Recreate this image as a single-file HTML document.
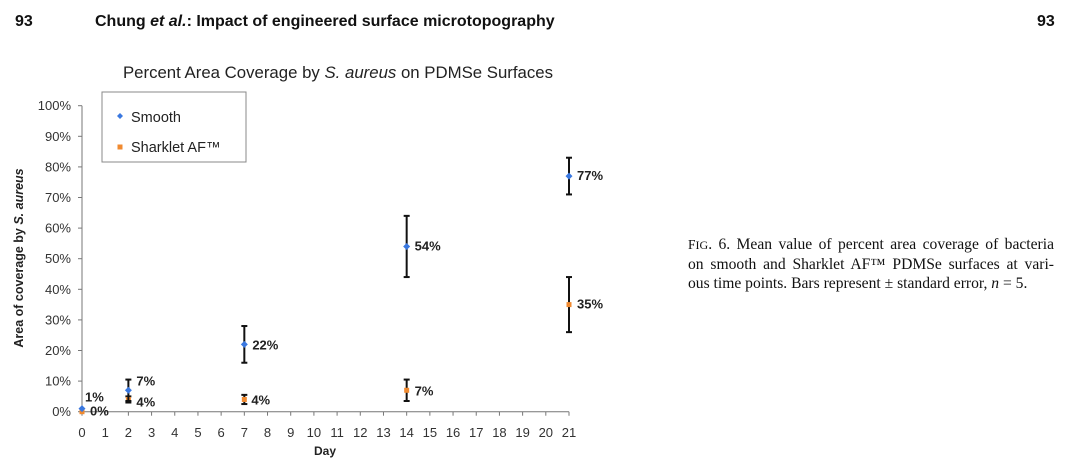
<!DOCTYPE html>
<html><head><meta charset="utf-8"><style>
body{margin:0;width:1080px;height:470px;background:#fff;overflow:hidden;position:relative;font-family:"Liberation Sans",sans-serif}
.hdr{position:absolute;top:13px;font-weight:bold;font-size:16px;color:#111}
.cap{position:absolute;left:688px;top:235px;width:366px;font-family:"Liberation Serif",serif;font-size:15.6px;line-height:19px;color:#111}
.cap div{text-align:justify;text-align-last:justify;white-space:nowrap}
</style></head><body>
<div class="hdr" style="left:15px">93</div>
<div class="hdr" style="left:95px">Chung <i>et al.</i>: Impact of engineered surface microtopography</div>
<div class="hdr" style="left:1037px">93</div>
<div class="cap"><div><span style="font-size:13.5px">F</span><span style="font-size:12px">IG</span>. 6. Mean value of percent area coverage of bacteria</div><div>on smooth and Sharklet AF™ PDMSe surfaces at vari-</div><div style="text-align-last:left">ous time points. Bars represent ± standard error, <i>n</i> = 5.</div></div>
<svg id="chart" width="1080" height="470" style="position:absolute;left:0;top:0" font-family="Liberation Sans, sans-serif">
<text x="338" y="78" text-anchor="middle" font-size="16.8" fill="#222">Percent Area Coverage by <tspan font-style="italic">S. aureus</tspan>  on PDMSe Surfaces</text>
<text transform="translate(23,258) rotate(-90)" text-anchor="middle" font-size="12.5" font-weight="bold" fill="#222">Area of coverage by <tspan font-style="italic">S. aureus</tspan></text>
<text x="325" y="455" text-anchor="middle" font-size="12" font-weight="bold" fill="#222">Day</text>
<g id="axes"></g><g id="marks"></g>
<g>
<rect x="102" y="92" width="144" height="70" fill="#fff" stroke="#888"/>
<path d="M120 113 l3 3 l-3 3 l-3 -3z" fill="#3a78e0"/>
<text x="131" y="122" font-size="14.5" fill="#222">Smooth</text>
<rect x="117.5" y="144.5" width="5" height="5" fill="#f08a30"/>
<text x="131" y="152" font-size="14.5" fill="#222">Sharklet AF™</text>
</g>
</svg>
<script>
const days=[0,2,7,14,21];
const smooth=[1,7,22,54,77];
const smoothErr=[0,3.5,6,10,6];
const sharklet=[0,4,4,7,35];
const sharkletErr=[0,1,1.5,3.5,9];
const yTicks=[0,10,20,30,40,50,60,70,80,90,100];
const xTicks=[0,1,2,3,4,5,6,7,8,9,10,11,12,13,14,15,16,17,18,19,20,21];
const X=d=>82+d*(487/21), Y=v=>411.7-v*3.06;
const NS="http://www.w3.org/2000/svg";
function mk(p,t,a){const e=document.createElementNS(NS,t);for(const k in a)e.setAttribute(k,a[k]);p.appendChild(e);return e;}
const ax=document.getElementById('axes'), mg=document.getElementById('marks');
let e=mk(ax,'line',{x1:82,y1:Y(100),x2:82,y2:Y(0),stroke:'#777'});


e=mk(ax,'line',{x1:82,y1:Y(0),x2:X(21),y2:Y(0),stroke:'#777'});


yTicks.forEach(v=>{mk(ax,'line',{x1:78,y1:Y(v),x2:82,y2:Y(v),stroke:'#777'});
 const t=mk(ax,'text',{x:71,y:Y(v)+4.5,'text-anchor':'end','font-size':13,fill:'#333'});t.textContent=v+'%';
 
 });
xTicks.forEach(d=>{mk(ax,'line',{x1:X(d),y1:Y(0),x2:X(d),y2:Y(0)+4,stroke:'#777'});
 const t=mk(ax,'text',{x:X(d),y:437,'text-anchor':'middle','font-size':13,fill:'#333'});t.textContent=d;
 
 });
function series(vals,errs,color,name,diamond,labelOff){
 vals.forEach((v,i)=>{const x=X(days[i]);
  if(errs[i]>0){const g=mk(mg,'g',{stroke:'#111','stroke-width':2});
   
   
   mk(g,'line',{x1:x,y1:Y(v+errs[i]),x2:x,y2:Y(v-errs[i])});
   mk(g,'line',{x1:x-3,y1:Y(v+errs[i]),x2:x+3,y2:Y(v+errs[i])});
   mk(g,'line',{x1:x-3,y1:Y(v-errs[i]),x2:x+3,y2:Y(v-errs[i])});}
  const y=Y(v);
  const m=diamond?mk(mg,'path',{d:`M${x} ${y-3.5} l3.5 3.5 l-3.5 3.5 l-3.5 -3.5z`,fill:color}):mk(mg,'rect',{x:x-2.5,y:y-2.5,width:5,height:5,fill:color});
  
  
  const o=labelOff[i];
  const t=mk(mg,'text',{x:x+o[0],y:y+o[1],'font-size':13,'font-weight':'bold',fill:'#222'});t.textContent=v+'%';
  
  });}
series(sharklet,sharkletErr,'#f08a30','sharklet',false,[[8,4],[8,7],[7,5],[8,5],[8,4]]);
series(smooth,smoothErr,'#3a78e0','smooth',true,[[3,-7],[8,-5],[8,5],[8,4],[8,4]]);
</script>
</body></html>
